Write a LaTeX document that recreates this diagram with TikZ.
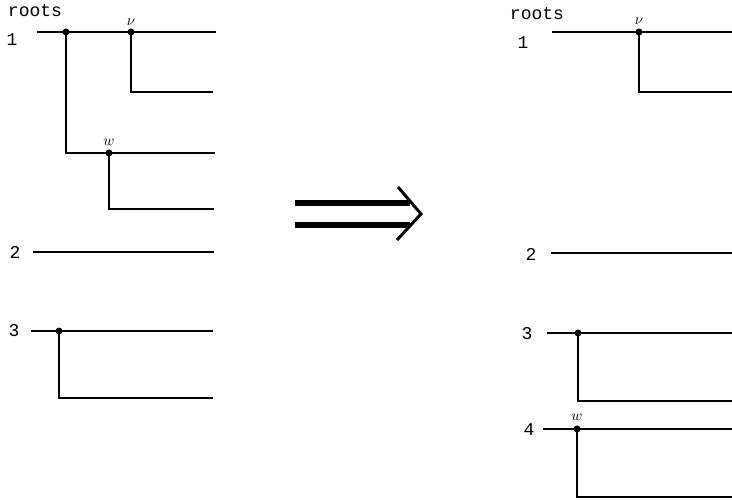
\documentclass[tikz,border=0pt]{standalone}
\usepackage{fontspec}
\usepackage{graphicx}
\setmonofont{Liberation Mono}
\newcommand{\bigmath}[1]{\scalebox{1.5}{$#1$}}
\begin{document}
\begin{tikzpicture}[x=1pt,y=-1pt,
  edge/.style={line width=1.3pt},
  dotnode/.style={circle,fill=black,inner sep=0pt,minimum size=7pt},
  lbl/.style={font=\ttfamily\fontsize{18}{18}\selectfont,inner sep=0pt},
  small/.style={inner sep=0pt},
  fat/.style={line width=6pt}]
\useasboundingbox (0,0) rectangle (732,500);
% ---------- left tree ----------
\node[lbl] (Lroots) at (35,11) {roots};
\node[lbl] (L1) at (12,40) {1};
\coordinate (L1s) at (37,32);
\coordinate (L1e) at (216,32);
\node[dotnode] (La) at (66,32) {};
\node[dotnode] (Lv) at (131,32) {};
\node[small] (Lvl) at (131,22) {\bigmath{\nu}};
\coordinate (Lvc) at (131,92);
\coordinate (Lve) at (213,92);
\coordinate (Lac) at (66,153);
\coordinate (Lae) at (215,153);
\node[dotnode] (Lw) at (109,153) {};
\node[small] (Lwl) at (109,142) {\bigmath{w}};
\coordinate (Lwc) at (109,209);
\coordinate (Lwe) at (214,209);
\draw[edge] (L1s) -- (L1e);
\draw[edge] (Lv.center) -- (Lvc) -- (Lve);
\draw[edge] (La.center) -- (Lac) -- (Lae);
\draw[edge] (Lw.center) -- (Lwc) -- (Lwe);
\node[lbl] (L2) at (15,252) {2};
\coordinate (L2s) at (33,252);
\coordinate (L2e) at (214,252);
\draw[edge] (L2s) -- (L2e);
\node[lbl] (L3) at (14,331) {3};
\coordinate (L3s) at (31,331);
\coordinate (L3e) at (213,331);
\node[dotnode] (Lb) at (59,331) {};
\coordinate (Lbc) at (59,398);
\coordinate (Lbe) at (213,398);
\draw[edge] (L3s) -- (L3e);
\draw[edge] (Lb.center) -- (Lbc) -- (Lbe);
% ---------- arrow ----------
\coordinate (A1s) at (295,203);
\coordinate (A1e) at (410,203);
\coordinate (A2s) at (295,225);
\coordinate (A2e) at (410,225);
\coordinate (Ht) at (398,187);
\coordinate (Hm) at (421,214);
\coordinate (Hb) at (397,240);
\draw[fat] (A1s) -- (A1e);
\draw[fat] (A2s) -- (A2e);
\draw[line width=3pt,line join=miter] (Ht) -- (Hm) -- (Hb);
% ---------- right tree ----------
\node[lbl] (Rroots) at (537,14) {roots};
\node[lbl] (R1) at (523,43) {1};
\coordinate (R1s) at (552,32);
\coordinate (R1e) at (732,32);
\node[dotnode] (Rv) at (639,32) {};
\node[small] (Rvl) at (639,21) {\bigmath{\nu}};
\coordinate (Rvc) at (639,92);
\coordinate (Rve) at (732,92);
\draw[edge] (R1s) -- (R1e);
\draw[edge] (Rv.center) -- (Rvc) -- (Rve);
\node[lbl] (R2) at (531,254) {2};
\coordinate (R2s) at (551,253);
\coordinate (R2e) at (732,253);
\draw[edge] (R2s) -- (R2e);
\node[lbl] (R3) at (527,334) {3};
\coordinate (R3s) at (547,333);
\coordinate (R3e) at (732,333);
\node[dotnode] (Rb) at (578,333) {};
\coordinate (Rbc) at (578,401);
\coordinate (Rbe) at (732,401);
\draw[edge] (R3s) -- (R3e);
\draw[edge] (Rb.center) -- (Rbc) -- (Rbe);
\node[lbl] (R4) at (529,430) {4};
\coordinate (R4s) at (543,429);
\coordinate (R4e) at (732,429);
\node[dotnode] (Rw) at (577,429) {};
\node[small] (Rwl) at (577,417) {\bigmath{w}};
\coordinate (Rwc) at (577,497);
\coordinate (Rwe) at (732,497);
\draw[edge] (R4s) -- (R4e);
\draw[edge] (Rw.center) -- (Rwc) -- (Rwe);
\end{tikzpicture}
\end{document}
